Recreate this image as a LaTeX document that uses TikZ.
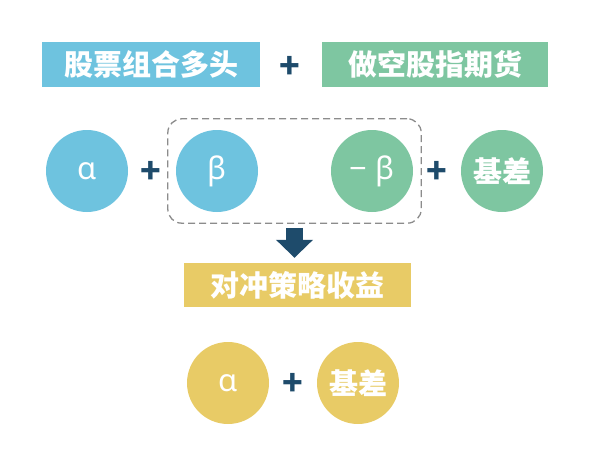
\documentclass[tikz,border=0pt]{standalone}
\usepackage{fontspec}
\setmainfont{Noto Sans}
\newfontfamily\cjk{Noto Sans CJK SC}
\usetikzlibrary{positioning,arrows.meta,fit}
\definecolor{cBlue}{HTML}{6EC3DF}
\definecolor{cGreen}{HTML}{7EC6A1}
\definecolor{cGold}{HTML}{E8CB66}
\definecolor{cNavy}{HTML}{1E4B6B}
\tikzset{
  tag/.style={fill=#1, text=white, font=\cjk\bfseries\fontsize{29}{30}\selectfont,
    minimum height=45pt, inner sep=0pt},
  ball/.style={circle, fill=#1, text=white, minimum size=82pt, inner sep=0pt,
    font=\fontsize{31}{32}\selectfont},
  cjkball/.style={ball=#1, font=\cjk\bfseries\fontsize{29}{30}\selectfont},
  plus/.style={text=cNavy, font=\cjk\bfseries\fontsize{34}{34}\selectfont, inner sep=0pt},
  group/.style={draw=black!45, line width=1.3pt, dash pattern=on 7pt off 4pt,
    rounded corners=14pt, inner xsep=8pt, inner ysep=11pt},
  down/.style={-{Triangle[width=36pt,length=18pt]}, line width=17pt, draw=cNavy},
}

\begin{document}
\begin{tikzpicture}[x=1pt, y=-1pt]
  \useasboundingbox (0,0) rectangle (595,455);
  % top row
  \node[tag=cBlue, minimum width=218pt] (long) at (151,64.5) {股票组合多头};
  \node[plus] (p1) at (290,67) {+};
  \node[tag=cGreen, minimum width=226pt] (short) at (435,64.5) {做空股指期货};
  % middle row
  \node[ball=cBlue] (alpha) at (87,171) {α};
  \node[plus] (p2) at (151,172) {+};
  \node[ball=cBlue] (beta) at (217,171) {β};
  \node[ball=cGreen] (negbeta) at (372,171) {− β};
  \node[plus] (p3) at (437,172) {+};
  \node[cjkball=cGreen] (basis) at (502,171) {基差};
  \node[group, fit=(beta)(negbeta)] (grp) {};
  % result
  \node[tag=cGold, minimum width=227pt, minimum height=44pt] (hedge) at (297.5,285) {对冲策略收益};
  \draw[down, shorten <=4pt, shorten >=5pt] (grp.south) -- (grp.south |- hedge.north);
  \node[ball=cGold] (alpha2) at (228,383) {α};
  \node[plus] (p4) at (293,384) {+};
  \node[cjkball=cGold] (basis2) at (358,383) {基差};
\end{tikzpicture}
\end{document}
